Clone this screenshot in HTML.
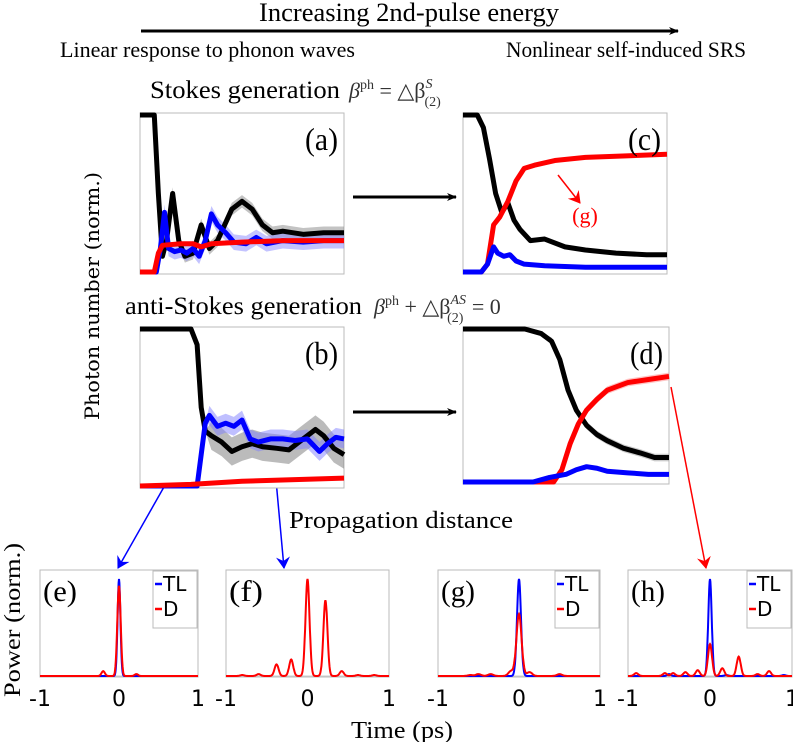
<!DOCTYPE html>
<html><head><meta charset="utf-8"><style>
html,body{margin:0;padding:0;background:#fff;}
svg{display:block;}
.serif{font-family:"Liberation Serif",serif;}
.sans{font-family:"DejaVu Sans","Liberation Sans",sans-serif;}
.dserif{font-family:"DejaVu Serif","Liberation Serif",serif;}
</style></head><body>
<svg id="fig" width="793" height="742" viewBox="0 0 793 742" xmlns="http://www.w3.org/2000/svg">
<defs>
<marker id="ahK" markerWidth="10" markerHeight="8" refX="9" refY="4" orient="auto" markerUnits="userSpaceOnUse"><path d="M0,0 L10,4 L0,8 L3,4 Z" fill="#000"/></marker>
<marker id="ahB" markerWidth="12" markerHeight="14" refX="11" refY="7" orient="auto" markerUnits="userSpaceOnUse"><path d="M0,0 L12,7 L0,14 L4,7 Z" fill="#00f"/></marker>
<marker id="ahR" markerWidth="12" markerHeight="14" refX="11" refY="7" orient="auto" markerUnits="userSpaceOnUse"><path d="M0,0 L12,7 L0,14 L4,7 Z" fill="#f00"/></marker>
</defs>
<text class="serif" x="409" y="21" font-size="26" text-anchor="middle" textLength="300" lengthAdjust="spacingAndGlyphs">Increasing 2nd-pulse energy</text>
<line x1="141" y1="31" x2="678" y2="31" stroke="#000" stroke-width="3" marker-end="url(#ahK)"/>
<text class="serif" x="60" y="57" font-size="22" textLength="295" lengthAdjust="spacingAndGlyphs">Linear response to phonon waves</text>
<text class="serif" x="506" y="57" font-size="22" textLength="240" lengthAdjust="spacingAndGlyphs">Nonlinear self-induced SRS</text>
<g>
<text class="serif" x="150" y="98" font-size="25" textLength="190" lengthAdjust="spacingAndGlyphs">Stokes generation</text>
<text class="serif" x="349" y="98" font-size="22" font-style="italic" fill="#333">β<tspan font-size="14" dy="-9" font-style="normal">ph</tspan><tspan dy="9" font-style="normal"> = △β</tspan><tspan font-size="14" dy="-10">S</tspan><tspan font-size="14" dx="-8" dy="18" font-style="normal">(2)</tspan></text>
</g>
<g>
<text class="serif" x="125" y="314" font-size="25" textLength="237" lengthAdjust="spacingAndGlyphs">anti-Stokes generation</text>
<text class="serif" x="374" y="314" font-size="22" font-style="italic" fill="#333">β<tspan font-size="14" dy="-9" font-style="normal">ph</tspan><tspan dy="9" font-style="normal"> + △β</tspan><tspan font-size="14" dy="-10">AS</tspan><tspan font-size="14" dx="-19" dy="18" font-style="normal">(2)</tspan><tspan dy="-8" dx="3" font-style="normal"> = 0</tspan></text>
</g>
<text class="dserif" transform="translate(99,296) rotate(-90)" font-size="20" text-anchor="middle" textLength="248" lengthAdjust="spacingAndGlyphs">Photon number (norm.)</text>
<line x1="353" y1="197" x2="456" y2="197" stroke="#000" stroke-width="3" marker-end="url(#ahK)"/>
<line x1="353" y1="412" x2="456" y2="412" stroke="#000" stroke-width="3" marker-end="url(#ahK)"/>
<text class="serif" x="289" y="528" font-size="24" textLength="224" lengthAdjust="spacingAndGlyphs">Propagation distance</text>
<text class="serif" x="402" y="738" font-size="24" text-anchor="middle" textLength="102" lengthAdjust="spacingAndGlyphs">Time (ps)</text>
<text class="serif" transform="translate(20,620) rotate(-90)" font-size="23" text-anchor="middle" textLength="154" lengthAdjust="spacingAndGlyphs">Power (norm.)</text>
<line x1="198" y1="427" x2="118" y2="568" stroke="#00f" stroke-width="1.5" marker-end="url(#ahB)"/>
<line x1="274" y1="458" x2="284" y2="568" stroke="#00f" stroke-width="1.5" marker-end="url(#ahB)"/>
<line x1="671" y1="387" x2="706" y2="568" stroke="#f00" stroke-width="1.5" marker-end="url(#ahR)"/>
</svg>
<script>
// ---- Top panels data (x: normalized distance 0..1, y: normalized photon number) ----
const aBlackX=[0,0.07,0.09,0.11,0.13,0.16,0.19,0.22,0.26,0.3,0.34,0.38,0.45,0.5,0.55,0.6,0.65,0.7,0.8,0.9,1];
const aBlackY=[1,1,0.5,0.1,0.2,0.5,0.2,0.1,0.12,0.3,0.15,0.2,0.4,0.45,0.4,0.3,0.25,0.26,0.24,0.25,0.25];
const aBlueX=[0,0.08,0.1,0.12,0.14,0.17,0.2,0.23,0.26,0.29,0.32,0.35,0.38,0.42,0.46,0.52,0.57,0.62,0.7,0.8,0.9,1];
const aBlueY=[0,0,0.15,0.38,0.15,0.13,0.14,0.12,0.15,0.1,0.2,0.37,0.3,0.25,0.19,0.18,0.22,0.18,0.2,0.19,0.2,0.2];
const aRedX=[0,0.07,0.09,0.11,0.2,0.26,0.3,0.35,0.5,0.7,1];
const aRedY=[0,0,0.12,0.17,0.18,0.18,0.16,0.18,0.19,0.2,0.2];
const cBlackX=[0,0.07,0.1,0.13,0.16,0.19,0.22,0.25,0.28,0.33,0.4,0.5,0.6,0.75,0.9,1];
const cBlackY=[1,1,0.92,0.72,0.5,0.38,0.44,0.33,0.27,0.2,0.21,0.16,0.14,0.12,0.11,0.11];
const cRedX=[0,0.09,0.12,0.15,0.18,0.22,0.26,0.3,0.35,0.45,0.6,0.8,1];
const cRedY=[0,0,0.05,0.3,0.35,0.45,0.58,0.66,0.68,0.71,0.73,0.74,0.75];
const cBlueX=[0,0.09,0.12,0.15,0.17,0.2,0.23,0.26,0.3,0.4,0.6,1];
const cBlueY=[0,0,0.05,0.16,0.12,0.1,0.11,0.07,0.05,0.04,0.03,0.03];
const bBlackX=[0,0.25,0.28,0.3,0.32,0.35,0.4,0.45,0.5,0.55,0.6,0.67,0.73,0.8,0.86,0.9,0.95,1];
const bBlackY=[1,1,0.9,0.5,0.35,0.32,0.28,0.22,0.25,0.27,0.25,0.24,0.23,0.3,0.36,0.32,0.24,0.2];
const bBlueX=[0,0.28,0.3,0.32,0.34,0.38,0.42,0.46,0.5,0.54,0.58,0.64,0.7,0.76,0.82,0.88,0.92,0.96,1];
const bBlueY=[0,0,0.2,0.4,0.45,0.38,0.4,0.38,0.42,0.3,0.28,0.3,0.3,0.29,0.3,0.22,0.27,0.31,0.3];
const bRedX=[0,0.25,0.5,1];
const bRedY=[0,0.01,0.03,0.05];
const dBlackX=[0,0.3,0.38,0.43,0.47,0.51,0.55,0.6,0.65,0.7,0.78,0.86,0.93,1];
const dBlackY=[1,1,0.97,0.92,0.8,0.6,0.47,0.37,0.31,0.27,0.22,0.19,0.16,0.16];
const dRedX=[0,0.44,0.48,0.52,0.56,0.6,0.65,0.7,0.8,0.9,1];
const dRedY=[0,0,0.08,0.25,0.38,0.47,0.54,0.6,0.65,0.67,0.69];
const dBlueX=[0,0.34,0.42,0.5,0.55,0.6,0.65,0.7,0.8,0.9,1];
const dBlueY=[0,0,0.03,0.05,0.08,0.1,0.09,0.07,0.06,0.05,0.05];
const aBandBlack=0.04, aBandBlue=0.05, bBandBlack=0.09, bBandBlue=0.06, dBand=0.025;

// ---- Bottom panels: pulse peaks (center ps, amplitude) ----
const eTLc=[0], eTLa=[1];
const eDc=[-0.2,0,0.22], eDa=[0.05,0.93,0.02];
const fDc=[-0.8,-0.6,-0.38,-0.2,0,0.22,0.42,0.62,0.82], fDa=[0.01,0.02,0.12,0.17,1,0.78,0.05,0.01,0.01];
const gTLc=[0], gTLa=[1];
const gDc=[-0.6,-0.5,-0.35,-0.1,0,0.13,0.5], gDa=[0.01,0.02,0.02,0.05,0.64,0.04,0.02];
const hTLc=[-0.5,0,0.2,0.9], hTLa=[0.02,1,0.01,0.01];
const hDc=[-0.9,-0.55,-0.45,-0.3,-0.15,0,0.15,0.35,0.58,0.72], hDa=[0.03,0.03,0.03,0.04,0.06,0.33,0.08,0.2,0.02,0.05];
const timeTicks=[-1,0,1];

const NS="http://www.w3.org/2000/svg";
const svg=document.getElementById('fig');
function mk(tag,attrs,parent){const e=document.createElementNS(NS,tag);for(const k in attrs)e.setAttribute(k,attrs[k]);(parent||svg).appendChild(e);return e;}

function topPanel(name,L,T,W,H,label,series){
  const g=mk('g',{});
  
  
  const box=mk('rect',{x:L,y:T,width:W,height:H,fill:'#fff',stroke:'#bbb','stroke-width':1},g);
  
  
  const sx=v=>L+v*W, sy=v=>T+H-v*(H-4)-2;
  series.forEach(s=>{
    if(s.band){
      let up=s.x.map((v,i)=>sx(v)+','+sy(s.y[i]+(v>s.bandStart?s.band:0)));
      let lo=s.x.map((v,i)=>sx(v)+','+sy(s.y[i]-(v>s.bandStart?s.band:0))).reverse();
      const b=mk('polygon',{points:up.concat(lo).join(' '),fill:s.bandColor,opacity:0.5},g);
      
      
    }
  });
  series.forEach(s=>{
    const p=mk('polyline',{points:s.x.map((v,i)=>sx(v)+','+sy(s.y[i])).join(' '),fill:'none',stroke:s.color,'stroke-width':5,'stroke-linejoin':'round'},g);
    
    
  });
  const t=mk('text',{x:L+W-6,y:T+37,'font-size':32,'text-anchor':'end',class:'serif',textLength:33,lengthAdjust:'spacingAndGlyphs'},g);
  t.textContent=label;
  
  
}
topPanel('panel-a',140,113,204,161,'(a)',[
 {name:'a-black',x:aBlackX,y:aBlackY,color:'#000',band:aBandBlack,bandStart:0.14,bandColor:'#888'},
 {name:'a-blue',x:aBlueX,y:aBlueY,color:'#00f',band:aBandBlue,bandStart:0.1,bandColor:'#8888ff'},
 {name:'a-red',x:aRedX,y:aRedY,color:'#f00'}]);
topPanel('panel-c',463,113,204,161,'(c)',[
 {name:'c-black',x:cBlackX,y:cBlackY,color:'#000'},
 {name:'c-red',x:cRedX,y:cRedY,color:'#f00'},
 {name:'c-blue',x:cBlueX,y:cBlueY,color:'#00f'}]);
topPanel('panel-b',140,327,204,161,'(b)',[
 {name:'b-black',x:bBlackX,y:bBlackY,color:'#000',band:bBandBlack,bandStart:0.33,bandColor:'#777'},
 {name:'b-blue',x:bBlueX,y:bBlueY,color:'#00f',band:bBandBlue,bandStart:0.33,bandColor:'#8080ff'},
 {name:'b-red',x:bRedX,y:bRedY,color:'#f00'}]);
topPanel('panel-d',463,327,206,157,'(d)',[
 {name:'d-black',x:dBlackX,y:dBlackY,color:'#000',band:dBand,bandStart:0.4,bandColor:'#999'},
 {name:'d-red',x:dRedX,y:dRedY,color:'#f00',band:dBand,bandStart:0.45,bandColor:'#f88'},
 {name:'d-blue',x:dBlueX,y:dBlueY,color:'#00f'}]);

const ga=mk('line',{x1:558,y1:175,x2:580,y2:203,stroke:'#f00','stroke-width':1.5,'marker-end':'url(#ahR)'});


const gt=mk('text',{x:585,y:223,'font-size':22,'text-anchor':'middle',fill:'#f00',class:'serif'});
gt.textContent='(g)';



function pulse(cs,as,t,w){let s=0;for(let i=0;i<cs.length;i++){s+=as[i]*Math.exp(-Math.pow((t-cs[i])/w,2));}return s;}
function bottomPanel(name,L,W,label,tl,d,legend,wTL,wD){
  const T=570,H=107;
  const g=mk('g',{});
  
  
  const box=mk('rect',{x:L,y:T,width:W,height:H,fill:'#fff',stroke:'#bbb','stroke-width':1},g);
  
  
  const sx=v=>L+(v+1)/2*W, sy=v=>T+H-1-v*(H-10);
  const base=mk('line',{x1:L,x2:L+W,y1:sy(0),y2:sy(0),stroke:'#ccc','stroke-width':1},g);
  
  
  const draw=(pk,col,w,nm)=>{
    let pts=[];for(let i=0;i<=400;i++){const t=-1+i/200;pts.push(sx(t).toFixed(1)+','+sy(pulse(pk[0],pk[1],t,w)).toFixed(1));}
    const p=mk('polyline',{points:pts.join(' '),fill:'none',stroke:col,'stroke-width':2},g);
    
    
  };
  if(tl)draw(tl,'#00f',wTL,name+'-tl-curve');
  if(d)draw(d,'#f00',wD,name+'-d-curve');
  timeTicks.forEach(v=>{
    const tk=mk('text',{x:sx(v),y:706,'font-size':22,'text-anchor':'middle',class:'sans'},g);
    tk.textContent=v;
    
    
  });
  const lb=mk('text',{x:L+3,y:T+31,'font-size':30,class:'serif',textLength:34,lengthAdjust:'spacingAndGlyphs'},g);
  lb.textContent=label;
  
  
  if(legend){
    const lg=mk('g',{},g);
    
    
    const lx=L+W-45;
    mk('rect',{x:lx,y:T+1,width:44,height:57,fill:'#fff',stroke:'#bbb','stroke-width':1},lg);
    [['TL','#00f',T+21],['D','#f00',T+46]].forEach(e=>{
      mk('line',{x1:lx+2,x2:lx+9,y1:e[2]-7,y2:e[2]-7,stroke:e[1],'stroke-width':2.5},lg);
      const tt=mk('text',{x:lx+10,y:e[2],'font-size':20,class:'sans'},lg);
      tt.textContent=e[0];
      
      
    });
  }
}
bottomPanel('panel-e',40,158,'(e)',[eTLc,eTLa],[eDc,eDa],true,0.025,0.03);
bottomPanel('panel-f',226,163,'(f)',null,[fDc,fDa],false,0.03,0.035);
bottomPanel('panel-g',438,162,'(g)',[gTLc,gTLa],[gDc,gDa],true,0.035,0.045);
bottomPanel('panel-h',628,164,'(h)',[hTLc,hTLa],[hDc,hDa],true,0.03,0.035);
</script>
</body></html>
